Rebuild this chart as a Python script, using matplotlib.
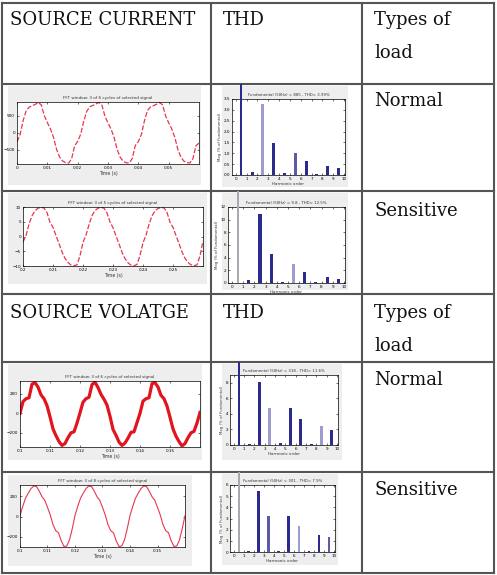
import matplotlib
matplotlib.use("Agg")
import matplotlib.pyplot as plt
from matplotlib.patches import Rectangle
import numpy as np

# ---- data ----
# source current, normal load (A), one sample per ms over 3 cycles
current_normal = [
    -260, -60, 350, 640, 750, 790, 830, 880, 820, 500, 300, 120, -120, -470, -700, -820, -870, -885, -760, -380,
    -250, -40, 340, 630, 760, 800, 840, 890, 810, 480, 290, 110, -130, -480, -710, -830, -875, -880, -750, -370,
    -255, -50, 345, 650, 755, 795, 835, 885, 815, 490, 295, 115, -125, -475, -705, -825, -870, -880, -755, -375,
    -300,
]
# source current, sensitive load (A)
current_sensitive = [
    -1.9, 0.3, 4.2, 7.0, 8.7, 9.6, 9.8, 9.7, 8.1, 4.8, 3.1, 0.3, -2.4, -5.2, -7.4, -8.8, -9.7, -9.9, -9.6, -6.5,
    -2.0, 0.5, 4.0, 7.1, 8.8, 9.6, 9.9, 9.6, 8.0, 4.9, 3.0, 0.2, -2.5, -5.3, -7.5, -8.9, -9.7, -9.9, -9.5, -6.4,
    -2.1, 0.4, 4.1, 7.0, 8.7, 9.5, 9.8, 9.7, 8.2, 4.8, 3.1, 0.3, -2.4, -5.2, -7.4, -8.8, -9.6, -9.9, -9.6, -6.6,
    -1.5,
]
# source voltage, normal load (V)
voltage_normal = [
    0, 120, 150, 160, 300, 315, 270, 190, 150, 80, -35, -160, -230, -290, -330, -310, -250, -200, -190, -100,
    5, 115, 150, 165, 295, 320, 265, 195, 145, 85, -30, -165, -225, -295, -330, -305, -255, -195, -190, -95,
    0, 125, 150, 160, 305, 315, 270, 185, 150, 75, -40, -160, -235, -290, -335, -310, -250, -200, -185, -100,
    10,
]
# source voltage, sensitive load (V)
voltage_sensitive = [
    10, 100, 180, 230, 275, 300, 295, 250, 195, 160, 90, 15, -80, -140, -160, -240, -295, -290, -230, -120,
    10, 100, 180, 230, 275, 300, 295, 250, 195, 160, 90, 15, -80, -140, -160, -240, -295, -290, -230, -120,
    10, 100, 180, 230, 275, 300, 295, 250, 195, 160, 90, 15, -80, -140, -160, -240, -295, -290, -230, -120,
    10,
]
t_start = [0.0, 0.2, 0.1, 0.1]

# FFT spectra, % of fundamental, harmonic orders 1..10
harmonics = [1, 2, 3, 4, 5, 6, 7, 8, 9, 10]
thd_current_normal = [100, 0.15, 3.25, 1.47, 0.07, 1.02, 0.65, 0.05, 0.42, 0.31]
thd_current_sensitive = [100, 0.42, 10.9, 4.6, 0.1, 3.0, 1.8, 0.1, 0.95, 0.62]
thd_voltage_normal = [100, 0.18, 8.1, 4.7, 0.27, 4.8, 3.3, 0.1, 2.4, 1.9]
thd_voltage_sensitive = [100, 0.06, 5.45, 3.2, 0.12, 3.2, 2.3, 0.06, 1.55, 1.3]

wave_titles = [
    "FFT window: 3 of 6 cycles of selected signal",
    "FFT window: 3 of 5 cycles of selected signal",
    "FFT window: 3 of 6 cycles of selected signal",
    "FFT window: 3 of 8 cycles of selected signal",
]
bar_titles = [
    "Fundamental (50Hz) = 885 , THD= 3.99%",
    "Fundamental (50Hz) = 9.8 , THD= 12.5%",
    "Fundamental (50Hz) = 318 , THD= 11.6%",
    "Fundamental (50Hz) = 301 , THD= 7.9%",
]
load_types = ["Normal", "Sensitive", "Normal", "Sensitive"]

W, H = 497, 575
DARK = "#2b2b8f"
MID = "#5b5ba8"
LIGHT = "#9c9ccf"
GREY = "#a8a8b0"

fig = plt.figure(figsize=(W / 100, H / 100), dpi=100)
tab = fig.add_axes([0, 0, 1, 1])
tab.set_xlim(0, W)
tab.set_ylim(H, 0)
tab.axis("off")


def px_rect(x0, y0, x1, y1):
    return [x0 / W, 1 - y1 / H, (x1 - x0) / W, (y1 - y0) / H]


# table grid
rows = [3, 84, 191, 294, 362, 472, 573]
cols = [2, 211, 362, 494]
for y in rows:
    tab.plot([cols[0], cols[-1]], [y, y], color="#555555", lw=1.5, solid_capstyle="projecting")
for x in cols:
    tab.plot([x, x], [rows[0], rows[-1]], color="#555555", lw=1.5, solid_capstyle="projecting")

font = dict(family="DejaVu Serif", fontsize=13, color="#111111", va="baseline")
for base in (25, 318):
    label = "SOURCE CURRENT" if base == 25 else "SOURCE VOLATGE"
    tab.text(10, base, label, **font)
    tab.text(223, base, "THD", **font)
    tab.text(374, base, "Types of", **font)
    tab.text(374, base + 33, "load", **font)
for y, name in zip([106, 216, 385, 495], load_types):
    tab.text(374, y, name, **font)

# gray screenshot panels
wave_panels = [(8, 86, 201, 185), (8, 193, 207, 284), (8, 364, 202, 460), (8, 475, 192, 566)]
bar_panels = [(222, 86, 348, 187), (222, 193, 348, 290), (222, 364, 342, 460), (222, 474, 338, 565)]
for x0, y0, x1, y1 in wave_panels + bar_panels:
    tab.add_patch(Rectangle((x0, y0), x1 - x0, y1 - y0, facecolor="#eeeeee", edgecolor="none"))

wave_axes = [(17, 102, 199, 164), (23, 207, 203, 266), (20, 381, 200, 447), (20, 485, 185, 547)]
bar_axes = [(232, 99, 345, 175), (228, 207, 345, 283), (230, 375, 338, 445), (230, 485, 335, 552)]
cells = [(211, 84, 362, 191), (211, 191, 362, 294), (211, 362, 362, 472), (211, 472, 362, 573)]

waves = [current_normal, current_sensitive, voltage_normal, voltage_sensitive]
wave_ylims = [(-910, 900), (-10, 10), (-346, 332), (-300, 310)]
wave_yticks = [[-500, 0, 500], [-10, -5, 0, 5, 10], [-200, 0, 200], [-200, 0, 200]]
wave_styles = [
    dict(lw=0.9, ls=(0, (4, 1.5)), color="#e8364e"),
    dict(lw=0.9, ls=(0, (4, 1.5)), color="#e8364e"),
    dict(lw=2.3, ls="-", color="#e2141e"),
    dict(lw=0.8, ls="-", color="#e8364e"),
]

small = dict(labelsize=3, length=1.5, width=0.4, direction="in", top=True, right=True, pad=1.5)

for i, vals in enumerate(waves):
    ax = fig.add_axes(px_rect(*wave_axes[i]))
    t = t_start[i] + np.arange(len(vals)) * 0.001
    ax.plot(t, vals, **wave_styles[i])
    ax.set_xlim(t[0], t[-1])
    ax.set_ylim(*wave_ylims[i])
    ax.set_yticks(wave_yticks[i])
    xt = t_start[i] + np.arange(6) * 0.01
    ax.set_xticks(xt)
    ax.set_xticklabels([f"{v:g}" for v in np.round(xt, 2)])
    ax.tick_params(**small)
    ax.set_title(wave_titles[i], fontsize=3, pad=2, color="#333333")
    ax.set_xlabel("Time (s)", fontsize=3.3, labelpad=1, color="#333333")
    for s in ax.spines.values():
        s.set_linewidth(0.5)

spectra = [thd_current_normal, thd_current_sensitive, thd_voltage_normal, thd_voltage_sensitive]
bar_ylims = [3.5, 12, 9, 6]
bar_colors = [
    [DARK, DARK, LIGHT, DARK, DARK, MID, DARK, DARK, DARK, DARK],
    [GREY, DARK, DARK, DARK, DARK, LIGHT, DARK, DARK, DARK, DARK],
    [DARK, DARK, DARK, LIGHT, DARK, DARK, DARK, DARK, LIGHT, DARK],
    [GREY, DARK, DARK, MID, DARK, DARK, LIGHT, DARK, DARK, MID],
]

for i, vals in enumerate(spectra):
    ax = fig.add_axes(px_rect(*bar_axes[i]))
    widths = [0.18] + [0.27] * (len(vals) - 1)
    bars = ax.bar(harmonics, vals, width=widths, color=bar_colors[i], edgecolor="none", zorder=3)
    x0, y0, x1, y1 = cells[i]
    bars[0].set_clip_path(Rectangle((x0, y0), x1 - x0, y1 - y0, transform=tab.transData))
    ax.set_xlim(0.14, 10.6)
    ax.set_ylim(0, bar_ylims[i])
    ax.set_xticks(np.arange(11) + 0.5)
    ax.set_xticklabels([str(k) for k in range(11)])
    ax.tick_params(**small)
    ax.set_title(bar_titles[i], fontsize=2.8, pad=2, color="#333333")
    ax.set_xlabel("Harmonic order", fontsize=3, labelpad=1, color="#333333")
    ax.set_ylabel("Mag (% of Fundamental)", fontsize=2.8, labelpad=1, color="#333333")
    for s in ax.spines.values():
        s.set_linewidth(0.5)

fig.savefig("out.png", dpi=100)
